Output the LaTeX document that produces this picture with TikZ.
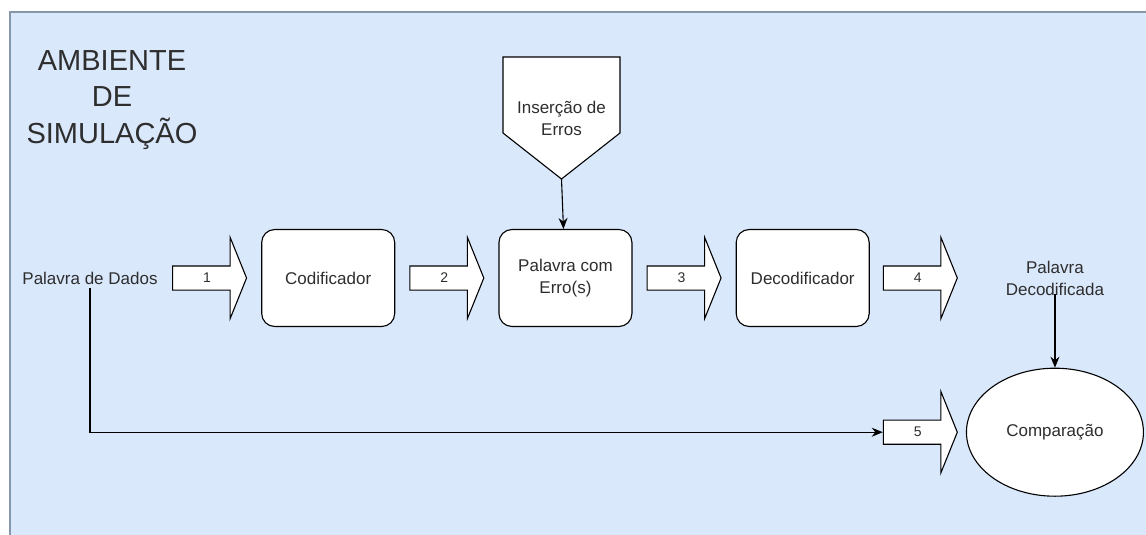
\documentclass[tikz,border=0pt]{standalone}
\usepackage{fontspec}
\setmainfont{Liberation Sans}
\usetikzlibrary{arrows.meta, positioning, shapes.arrows, shapes.geometric}
\definecolor{simfill}{HTML}{DAE8FC}
\definecolor{simline}{HTML}{8797AA}
\definecolor{txtgray}{HTML}{2E2E2E}
\tikzset{>={Stealth[length=11pt,width=9pt]}, node distance=14pt,
  proc/.style={draw, fill=white, rounded corners=13pt, minimum width=133pt,
    minimum height=97pt, line width=1.1pt, align=center,
    font=\fontsize{17}{22}\selectfont, text=txtgray},
  numarrow/.style={single arrow, draw, fill=white, line width=1.1pt,
    minimum height=74pt, single arrow head extend=28.5pt,
    single arrow tip angle=136, inner xsep=2pt, inner ysep=6pt,
    text height=10pt, text depth=1pt, font=\fontsize{14}{14}\selectfont,
    text=txtgray},
  lbl/.style={align=center, font=\fontsize{17}{22}\selectfont, text=txtgray},
  link/.style={->, line width=1.1pt}
}

\begin{document}
\begin{tikzpicture}[x=1pt, y=-1pt]
\useasboundingbox (0,0) rectangle (1146,535);
% simulation area
\fill[simfill] (10,12) rectangle (1146,535);
\draw[simline, line width=1.2pt] (10,535) -- (10,12) -- (1146,12);
\node[font=\fontsize{29}{36.5}\selectfont, align=center, text=txtgray] (amb) at (112,100) {AMBIENTE\\DE\\SIMULAÇÃO};

% main chain
\node[lbl] (dados) at (90,278) {Palavra de Dados};
\node[numarrow, anchor=west] (a1) at (172,278) {1};
\node[proc, right=of a1] (cod) {Codificador};
\node[numarrow, right=of cod] (a2) {2};
\node[proc, right=of a2] (err) {Palavra com\\Erro(s)};
\node[numarrow, right=of err] (a3) {3};
\node[proc, right=of a3] (dec) {Decodificador};
\node[numarrow, right=13pt of dec] (a4) {4};
\node[numarrow, below=129pt of a4] (a5) {5};
\node[ellipse, draw, fill=white, line width=1.1pt, minimum width=177pt,
  minimum height=128pt, inner sep=0pt, lbl, right=8pt of a5] (cmp) {Comparação};
\node[lbl] (pdec) at (cmp |- a4) {Palavra\\Decodificada};

% error insertion
\draw[line width=1.1pt, fill=white] (503,57) -- (620,57) -- (620,133) -- (561.5,179) -- (503,133) -- cycle;
\node[lbl] (ins) at (561.5,118) {Inserção de\\Erros};
\coordinate (instip) at (561.5,179);

\draw[link] (instip) -- (err);
\draw[link] ([yshift=-16pt]pdec.center) -- (cmp);
\draw[link] (dados.south) |- (a5);
\end{tikzpicture}
\end{document}
